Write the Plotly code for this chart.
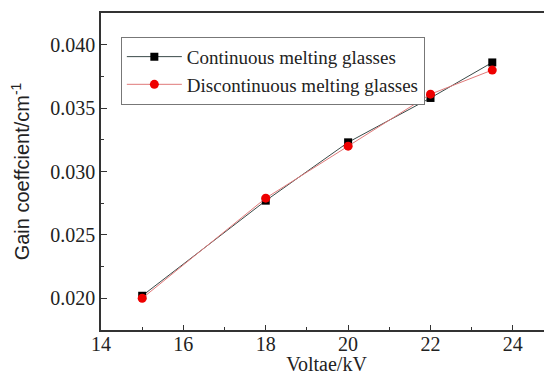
import plotly.graph_objects as go

voltage_cont = [15, 18, 20, 22, 23.5]
gain_cont = [0.0202, 0.0277, 0.0323, 0.0358, 0.0386]
voltage_disc = [15, 18, 20, 22, 23.5]
gain_disc = [0.0200, 0.0279, 0.0320, 0.0361, 0.0380]

x_ticks = [14, 16, 18, 20, 22, 24]
y_ticks = [0.020, 0.025, 0.030, 0.035, 0.040]
y_tick_text = ["0.020", "0.025", "0.030", "0.035", "0.040"]

serif = "Liberation Serif, Times New Roman, serif"

fig = go.Figure()
fig.add_trace(go.Scatter(
    x=voltage_cont, y=gain_cont, mode="lines+markers",
    name="Continuous melting glasses",
    line=dict(color="#3a4a48", width=1),
    marker=dict(symbol="square", size=8, color="black"),
))
fig.add_trace(go.Scatter(
    x=voltage_disc, y=gain_disc, mode="lines+markers",
    name="Discontinuous melting glasses",
    line=dict(color="#e07a7a", width=1),
    marker=dict(symbol="circle", size=9, color="#ee0000"),
))

# page body has an 8px default margin, so the figure is sized to fit the window
fig.update_layout(
    width=544, height=367,
    margin=dict(l=93, r=0, t=5, b=45),
    paper_bgcolor="white", plot_bgcolor="white",
    font=dict(family=serif, size=18, color="#222"),
    legend=dict(
        x=0.044, y=0.925, xanchor="left", yanchor="top",
        bgcolor="white", bordercolor="#777", borderwidth=1,
        font=dict(family=serif, size=19, color="#222"),
        tracegroupgap=0, itemwidth=55,
    ),
    showlegend=True,
)
fig.update_xaxes(
    range=[14, 24.95], tickvals=x_ticks, automargin=False,
    ticks="inside", ticklen=5, tickcolor="#333",
    minor=dict(dtick=1, ticks="inside", ticklen=3, tickcolor="#333"),
    showline=True, linecolor="#333", linewidth=1.5, mirror=True,
    showgrid=False, zeroline=False,
    ticklabelstandoff=-5,
    title=dict(text="Voltae/kV", font=dict(family=serif, size=20), standoff=4),
    tickfont=dict(family=serif, size=20),
)
fig.update_yaxes(
    range=[0.0175, 0.0425], tickvals=y_ticks, ticktext=y_tick_text, automargin=False,
    ticks="inside", ticklen=6, tickcolor="#333",
    minor=dict(dtick=0.0025, ticks="inside", ticklen=3, tickcolor="#333"),
    showline=True, linecolor="#333", linewidth=1.5, mirror=False,
    showgrid=False, zeroline=False,
    title=dict(text="Gain coeffcient/cm<sup>-1</sup>",
               font=dict(family="Liberation Sans, Arial, sans-serif", size=20), standoff=16),
    tickfont=dict(family=serif, size=20),
)

fig.write_html("out.html", config={"displayModeBar": False})
